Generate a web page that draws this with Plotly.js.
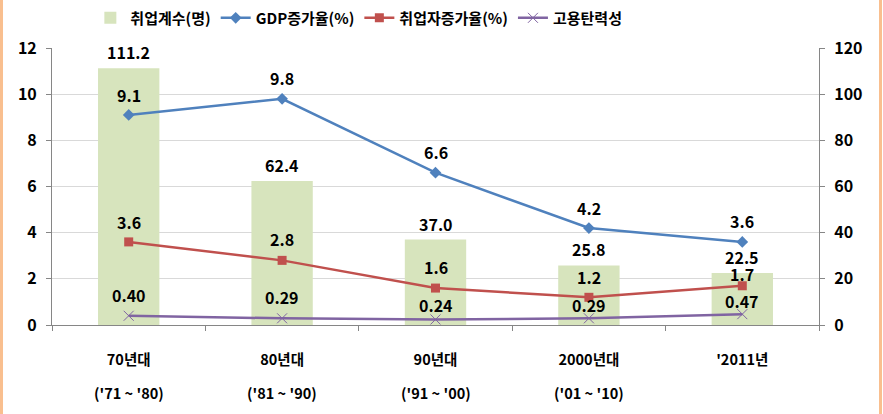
<!DOCTYPE html>
<html>
<head>
<meta charset="utf-8">
<script src="https://cdn.plot.ly/plotly-3.0.1.min.js"></script>
<style>
  html, body { margin: 0; padding: 0; background: #fff; }
  #wrap { position: relative; width: 883px; height: 414px; }
  #chart { width: 883px; height: 414px; }
  .edge { position: absolute; top: 0; width: 3px; height: 414px; background: #F9BF8F; }
</style>
</head>
<body>
<div id="wrap">
  <div id="chart"></div>
  <div class="edge" style="left:0px"></div>
  <div class="edge" style="left:879px"></div>
</div>
<script>
// ---- data ----
const categories = ["70년대", "80년대", "90년대", "2000년대", "'2011년"];
const periods = ["('71 ~ '80)", "('81 ~ '90)", "('91 ~ '00)", "('01 ~ '10)", ""];
const seriesNames = ['취업계수(명)', 'GDP증가율(%)', '취업자증가율(%)', '고용탄력성'];
const employmentCoef = [111.2, 62.4, 37.0, 25.8, 22.5];
const gdpGrowth = [9.1, 9.8, 6.6, 4.2, 3.6];
const employmentGrowth = [3.6, 2.8, 1.6, 1.2, 1.7];
const employmentElasticity = [0.40, 0.29, 0.24, 0.29, 0.47];

// ---- styling ----
const FONT = 'Malgun Gothic, "Noto Sans CJK KR", sans-serif';
const cGreen = '#D7E4BD', cBlue = '#4F81BD', cRed = '#C0504D', cPurple = '#8064A2';
const shiftBar = [16, 16, 16, 16, 16];
const shiftGdp = [20, 21, 21, 20, 21];
const shiftRed = [20, 21, 21, 20, 12];
const shiftEl = [21, 21, 14, 13, 13];

const traces = [
  { type: 'bar', name: seriesNames[0], x: categories, y: employmentCoef, yaxis: 'y',
    marker: { color: cGreen }, width: 0.4, hoverinfo: 'y' },
  { type: 'scatter', mode: 'lines+markers', name: seriesNames[1], x: categories, y: gdpGrowth, yaxis: 'y2',
    line: { color: cBlue, width: 2.5 }, marker: { symbol: 'diamond', size: 9, color: cBlue } },
  { type: 'scatter', mode: 'lines+markers', name: seriesNames[2], x: categories, y: employmentGrowth, yaxis: 'y2',
    line: { color: cRed, width: 2.5 }, marker: { symbol: 'square', size: 9, color: cRed } },
  { type: 'scatter', mode: 'lines+markers', name: seriesNames[3], x: categories, y: employmentElasticity, yaxis: 'y2',
    line: { color: cPurple, width: 2.5 }, marker: { symbol: 'x-thin', size: 10, color: cPurple, line: { color: cPurple, width: 1 } } }
];

const labelFont = { family: FONT, size: 16, color: '#000', weight: 'bold' };
const annotations = [];
function addLabels(vals, yref, shifts, digits) {
  vals.forEach((v, i) => annotations.push({
    x: categories[i], y: v, xref: 'x', yref: yref, text: v.toFixed(digits),
    showarrow: false, yanchor: 'middle', yshift: shifts[i], font: labelFont
  }));
}
addLabels(employmentCoef, 'y', shiftBar, 1);
addLabels(gdpGrowth, 'y2', shiftGdp, 1);
addLabels(employmentGrowth, 'y2', shiftRed, 1);
addLabels(employmentElasticity, 'y2', shiftEl, 2);
periods.forEach((p, i) => { if (p) annotations.push({
  x: categories[i], y: 0, xref: 'x', yref: 'paper', text: p, showarrow: false,
  yanchor: 'middle', yshift: -67, font: { family: FONT, size: 14.5, color: '#000', weight: 'bold' }
}); });

const yTickFont = { family: FONT, size: 16, color: '#000', weight: 'bold' };
const xTickFont = { family: FONT, size: 14.5, color: '#000', weight: 'bold' };
const layout = {
  width: 883, height: 414,
  margin: { l: 52, r: 64, t: 48, b: 89, autoexpand: false },
  paper_bgcolor: '#fff', plot_bgcolor: '#fff',
  showlegend: true,
  legend: { orientation: 'h', x: 0.05, xanchor: 'left', y: 1.108, yanchor: 'middle',
    font: { family: FONT, size: 15, color: '#000', weight: 'bold' }, traceorder: 'normal' },
  xaxis: { type: 'category', tickson: 'boundaries', ticks: 'outside', ticklen: 5, tickcolor: '#868686',
    showline: true, linecolor: '#868686', linewidth: 1, showgrid: false, tickfont: xTickFont, ticklabelstandoff: 22 },
  yaxis: { side: 'right', range: [0, 120], dtick: 20, ticks: 'outside', ticklen: 5, tickcolor: '#868686',
    showline: true, linecolor: '#868686', gridcolor: '#D9D9D9', zeroline: false, tickfont: yTickFont, ticklabelstandoff: 6 },
  yaxis2: { side: 'left', overlaying: 'y', range: [0, 12], dtick: 2, ticks: 'outside', ticklen: 5, tickcolor: '#868686',
    showline: true, linecolor: '#868686', showgrid: false, zeroline: false, tickfont: yTickFont, ticklabelstandoff: 6 },
  annotations: annotations
};

Plotly.newPlot('chart', traces, layout, { displayModeBar: false, staticPlot: true });
</script>
</body>
</html>
